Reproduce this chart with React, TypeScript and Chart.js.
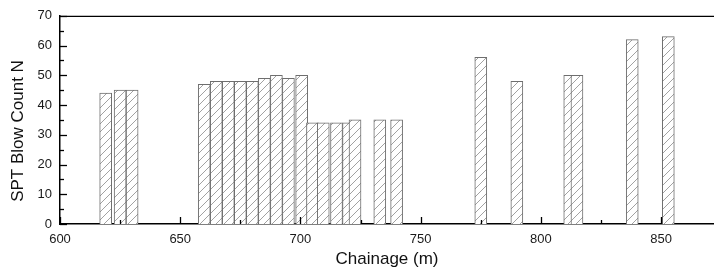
import React, { useEffect, useRef } from "react";
import { Chart, registerables } from "chart.js";

Chart.register(...registerables);

// Chainage (m) of each SPT test and its blow count N
const chainage = [619, 625, 630, 660, 665, 670, 675, 680, 685, 690, 695, 700.5, 705, 709.5, 715, 720, 722.7, 733, 740, 775, 790, 812, 815, 838, 853];
const sptN = [44, 45, 45, 47, 48, 48, 48, 48, 49, 50, 49, 50, 34, 34, 34, 34, 35, 35, 35, 56, 48, 50, 50, 62, 63];

const xTicks = [600, 650, 700, 750, 800, 850];
const yTicks = [0, 10, 20, 30, 40, 50, 60, 70];
const xTitle = "Chainage (m)";
const yTitle = "SPT Blow Count N";

const FONT = "'Liberation Sans', Arial, sans-serif";

function makeHatch(): CanvasPattern | string {
  const c = document.createElement("canvas");
  c.width = 8;
  c.height = 8;
  const p = c.getContext("2d");
  if (!p) return "#fff";
  p.fillStyle = "#ffffff";
  p.fillRect(0, 0, 8, 8);
  p.strokeStyle = "#8a8a8a";
  p.lineWidth = 0.8;
  p.beginPath();
  p.moveTo(0, 8);
  p.lineTo(8, 0);
  p.moveTo(-1, 1);
  p.lineTo(1, -1);
  p.moveTo(7, 9);
  p.lineTo(9, 7);
  p.stroke();
  const pat = p.createPattern(c, "repeat");
  return pat || "#fff";
}

const frame = {
  id: "frame",
  afterDraw(chart: any) {
    const { ctx, chartArea, scales } = chart;
    const x = scales.x;
    const y = scales.y;
    ctx.save();
    ctx.strokeStyle = "#000";
    ctx.lineWidth = 1.3;
    // top border
    ctx.beginPath();
    ctx.moveTo(chartArea.left, chartArea.top + 0.5);
    ctx.lineTo(chartArea.right, chartArea.top + 0.5);
    ctx.stroke();
    // x ticks (inside)
    for (let v = 600; v <= x.max; v += 25) {
      const px = Math.round(x.getPixelForValue(v)) + 0.5;
      const len = v % 50 === 0 ? 7 : 4;
      ctx.beginPath();
      ctx.moveTo(px, chartArea.bottom);
      ctx.lineTo(px, chartArea.bottom - len);
      ctx.stroke();
    }
    // y ticks (inside)
    for (let v = 0; v <= y.max; v += 5) {
      const py = Math.round(y.getPixelForValue(v)) + 0.5;
      const len = v % 10 === 0 ? 7 : 4;
      ctx.beginPath();
      ctx.moveTo(chartArea.left, py);
      ctx.lineTo(chartArea.left + len, py);
      ctx.stroke();
    }
    // axis titles
    ctx.fillStyle = "#111";
    ctx.font = `17px ${FONT}`;
    ctx.textAlign = "center";
    ctx.textBaseline = "middle";
    ctx.fillText(xTitle, (chartArea.left + chartArea.right) / 2, 259);
    ctx.translate(18, 131);
    ctx.rotate(-Math.PI / 2);
    ctx.fillText(yTitle, 0, 0);
    ctx.restore();
  },
};

export default function App() {
  const ref = useRef<HTMLCanvasElement>(null);
  useEffect(() => {
    if (!ref.current) return;
    const hatch = makeHatch();
    const chart = new Chart(ref.current, {
      type: "bar",
      data: {
        datasets: [
          {
            data: chainage.map((c, i) => ({ x: c, y: sptN[i] })),
            backgroundColor: hatch as any,
            borderColor: "#6e6e6e",
            borderWidth: 1,
            barThickness: 12,
          },
        ],
      },
      options: {
        responsive: false,
        animation: false,
        devicePixelRatio: 1,
        layout: { padding: { top: 14, right: 0, left: 0, bottom: 0 } },
        plugins: { legend: { display: false }, tooltip: { enabled: false } },
        scales: {
          x: {
            type: "linear",
            min: 600,
            max: 872,
            offset: false,
            grid: { display: false, offset: false, drawTicks: false },
            border: { display: true, color: "#000", width: 1.5 },
            afterBuildTicks: (s: any) => {
              s.ticks = xTicks.map((v) => ({ value: v }));
            },
            afterFit: (s: any) => {
              s.height = 48;
            },
            ticks: {
              padding: 8,
              color: "#1a1a1a",
              font: { family: FONT, size: 13 },
              maxRotation: 0,
              autoSkip: false,
            },
          },
          y: {
            type: "linear",
            min: 0,
            max: 70,
            grid: { display: false, drawTicks: false },
            border: { display: true, color: "#000", width: 1.5 },
            afterBuildTicks: (s: any) => {
              s.ticks = yTicks.map((v) => ({ value: v }));
            },
            afterFit: (s: any) => {
              s.width = 60;
            },
            ticks: {
              padding: 8,
              color: "#1a1a1a",
              font: { family: FONT, size: 13 },
            },
          },
        },
      },
      plugins: [frame],
    });
    return () => chart.destroy();
  }, []);
  return (
    <div style={{ position: "fixed", left: 0, top: 0, width: 714, height: 272, background: "#fff" }}>
      <canvas ref={ref} width={714} height={272} />
    </div>
  );
}
